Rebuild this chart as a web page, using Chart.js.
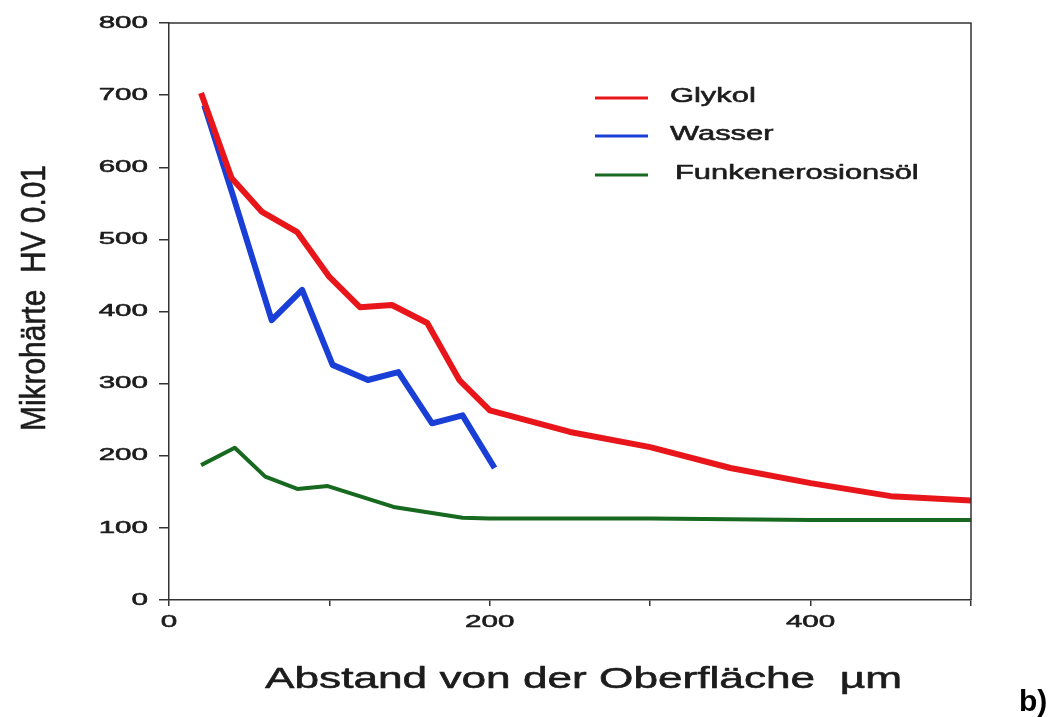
<!DOCTYPE html>
<html>
<head>
<meta charset="utf-8">
<script src="https://cdn.jsdelivr.net/npm/chart.js@4.4.1/dist/chart.umd.min.js"></script>
<style>
  html, body { margin: 0; padding: 0; background: #ffffff; }
  #wrap { width: 1060px; height: 717px; position: relative; }
</style>
</head>
<body>
<div id="wrap"><canvas id="c" width="1060" height="717"></canvas></div>
<script>
// Microhardness profiles below the machined surface for three dielectrics
const seriesNames = ['Glykol', 'Wasser', 'Funkenerosionsöl'];
const seriesColors = ['#e8161b', '#1a3fd6', '#17691f'];

const glykolX = [20, 39, 58, 80, 100, 119, 139, 161, 181, 200, 250, 300, 350, 400, 450, 500];
const glykolY = [703, 585, 538, 510, 448, 406, 409, 384, 305, 263, 233, 212, 183, 162, 144, 138];

const wasserX = [22, 40, 64, 83, 102, 124, 143, 164, 183, 203];
const wasserY = [686, 560, 388, 430, 326, 305, 316, 245, 256, 183];

const oelX = [20, 41, 60, 80, 99, 140, 183, 200, 250, 300, 350, 400, 450, 500];
const oelY = [187, 211, 171, 154, 158, 129, 114, 113, 113, 113, 112, 111, 111, 111];

const xTicks = [0, 100, 200, 300, 400, 500];
const xTickLabels = ['0', '', '200', '', '400', ''];
const yTicks = [0, 100, 200, 300, 400, 500, 600, 700, 800];
const yTickLabels = ['0', '100', '200', '300', '400', '500', '600', '700', '800'];

const xTitle = 'Abstand von der Oberfläche  µm';
const yTitle = 'Mikrohärte  HV 0.01';
const panelTag = 'b)';

const toPoints = (xs, ys) => xs.map((x, i) => ({ x: x, y: ys[i] }));

const INK = '#1c1c1c';
const FONT = '"Liberation Sans", Arial, sans-serif';
const NARROW = '"Liberation Sans Narrow", "Liberation Sans", Arial, sans-serif';

// Draws text stretched horizontally by factor sx, with an optional outline for weight
function drawWide(ctx, text, x, y, font, sx, align, baseline, weight) {
  ctx.save();
  ctx.font = font;
  ctx.fillStyle = INK;
  ctx.strokeStyle = INK;
  ctx.textBaseline = baseline || 'middle';
  ctx.translate(x, y);
  ctx.scale(sx, 1);
  ctx.textAlign = align || 'left';
  ctx.fillText(text, 0, 0);
  if (weight) {
    ctx.lineWidth = weight;
    ctx.lineJoin = 'round';
    ctx.strokeText(text, 0, 0);
  }
  ctx.restore();
}

// Draws text fitted to a given width
function drawFitted(ctx, text, x, y, font, width, align, baseline, weight) {
  ctx.save();
  ctx.font = font;
  const w = ctx.measureText(text).width;
  ctx.restore();
  drawWide(ctx, text, x, y, font, width / w, align, baseline, weight);
}

const decorations = {
  id: 'decorations',
  afterDraw(chart) {
    const ctx = chart.ctx;
    const area = chart.chartArea;
    const xs = chart.scales.x;
    const ys = chart.scales.y;

    // frame on top and right
    ctx.save();
    ctx.strokeStyle = '#333333';
    ctx.lineWidth = 1.5;
    ctx.beginPath();
    ctx.moveTo(area.left, area.top);
    ctx.lineTo(area.right, area.top);
    ctx.lineTo(area.right, area.bottom);
    ctx.stroke();
    ctx.restore();

    // tick labels
    const tickFont = '17px ' + FONT;
    ys.ticks.forEach((t, i) => {
      const lab = yTickLabels[i];
      if (lab) drawWide(ctx, lab, 148, ys.getPixelForValue(t.value), tickFont, 1.74, 'right', 'middle', 0.55);
    });
    xs.ticks.forEach((t, i) => {
      const lab = xTickLabels[i];
      if (lab) drawWide(ctx, lab, xs.getPixelForValue(t.value), 622, tickFont, 1.74, 'center', 'middle', 0.55);
    });

    // axis titles
    drawFitted(ctx, xTitle, 265, 688, '30px ' + FONT, 637, 'left', 'alphabetic', 0.6);
    ctx.save();
    ctx.translate(45, 431);
    ctx.rotate(-Math.PI / 2);
    drawFitted(ctx, yTitle, 0, 0, '35px ' + NARROW, 266, 'left', 'alphabetic', 0.6);
    ctx.restore();

    // panel tag
    ctx.save();
    ctx.font = 'bold 30px ' + FONT;
    ctx.fillStyle = '#000000';
    ctx.textBaseline = 'alphabetic';
    ctx.fillText(panelTag, 1019, 711);
    ctx.restore();

    // legend
    const rowsY = [98, 136, 175];
    chart.data.datasets.forEach((ds, i) => {
      const y = rowsY[i];
      ctx.save();
      ctx.strokeStyle = ds.borderColor;
      ctx.lineWidth = 3;
      ctx.beginPath();
      ctx.moveTo(595, y);
      ctx.lineTo(648, y);
      ctx.stroke();
      ctx.restore();
      drawWide(ctx, ds.label, i === 2 ? 675 : 670, y - 2, '21px ' + FONT, 1.47, 'left', 'middle', 0.6);
    });
  }
};

new Chart(document.getElementById('c'), {
  type: 'line',
  data: {
    datasets: [
      { label: seriesNames[0], data: toPoints(glykolX, glykolY), borderColor: seriesColors[0], borderWidth: 6 },
      { label: seriesNames[1], data: toPoints(wasserX, wasserY), borderColor: seriesColors[1], borderWidth: 6 },
      { label: seriesNames[2], data: toPoints(oelX, oelY), borderColor: seriesColors[2], borderWidth: 4 }
    ]
  },
  options: {
    responsive: false,
    animation: false,
    devicePixelRatio: 1,
    layout: { padding: { left: 159, right: 89, top: 23, bottom: 111 } },
    elements: {
      point: { radius: 0, hoverRadius: 0 },
      line: { tension: 0, borderJoinStyle: 'round', borderCapStyle: 'butt', fill: false }
    },
    plugins: { legend: { display: false }, tooltip: { enabled: false } },
    scales: {
      x: {
        type: 'linear', min: 0, max: 500,
        afterBuildTicks: s => { s.ticks = xTicks.map(v => ({ value: v })); },
        ticks: { display: false },
        grid: { display: true, drawOnChartArea: false, drawTicks: true, tickLength: 6, color: '#333333', lineWidth: 1.5 },
        border: { display: true, color: '#333333', width: 1.5 }
      },
      y: {
        type: 'linear', min: 0, max: 800,
        afterBuildTicks: s => { s.ticks = yTicks.map(v => ({ value: v })); },
        ticks: { display: false },
        grid: { display: true, drawOnChartArea: false, drawTicks: true, tickLength: 10, color: '#333333', lineWidth: 1.5 },
        border: { display: true, color: '#333333', width: 1.5 }
      }
    }
  },
  plugins: [decorations]
});
</script>
</body>
</html>
